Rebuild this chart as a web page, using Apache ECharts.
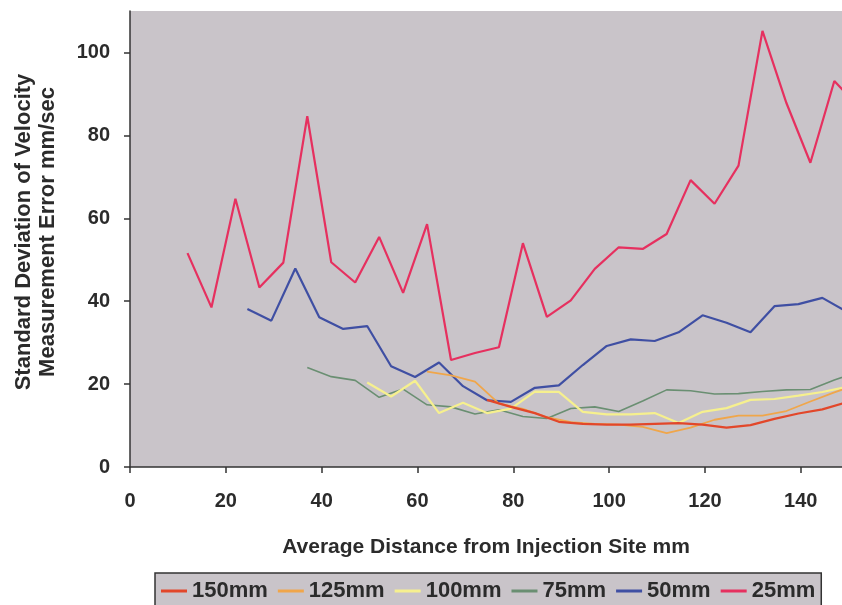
<!DOCTYPE html>
<html><head><meta charset="utf-8">
<script src="https://cdn.jsdelivr.net/npm/echarts@6/dist/echarts.min.js"></script>
<style>html,body{margin:0;padding:0;background:#fff}#c{width:842px;height:605px}</style>
</head><body><div id="c"></div>
<script>
// Series x positions (mm) and y values (mm/sec)
const x25 = [12,17,22,27,32,37,42,47,52,57,62,67,72,77,82,87,92,97,102,107,112,117,122,127,132,137,142,147,152];
const y25 = [51.6,38.5,64.7,43.3,49.3,84.6,49.4,44.5,55.5,42.0,58.6,25.8,27.5,28.9,54.0,36.2,40.2,47.8,53.0,52.6,56.2,69.2,63.5,72.7,105.2,87.8,73.4,93.1,87];
const x50 = [24.5,29.5,34.5,39.5,44.5,49.5,54.5,59.5,64.5,69.5,74.5,79.5,84.5,89.5,94.5,99.5,104.5,109.5,114.5,119.5,124.5,129.5,134.5,139.5,144.5,149.5];
const y50 = [38.1,35.3,47.9,36.1,33.3,34.0,24.3,21.7,25.2,19.5,16.1,15.7,19.1,19.7,24.6,29.2,30.8,30.4,32.5,36.6,34.8,32.5,38.8,39.3,40.8,37.5];
const x75 = [37,42,47,52,57,62,67,72,77,82,87,92,97,102,107,112,117,122,127,132,137,142,147,152];
const y75 = [24.0,21.8,20.9,16.8,18.8,15.0,14.5,12.8,13.8,12.2,11.7,14.1,14.5,13.4,15.9,18.6,18.4,17.6,17.7,18.2,18.6,18.7,21.0,23.0];
const x100 = [49.5,54.5,59.5,64.5,69.5,74.5,79.5,84.5,89.5,94.5,99.5,104.5,109.5,114.5,119.5,124.5,129.5,134.5,139.5,144.5,149.5];
const y100 = [20.4,17.0,20.8,13.0,15.5,13.0,14.1,18.2,18.1,13.3,12.7,12.7,13.0,10.6,13.3,14.2,16.2,16.4,17.2,18.1,19.3];
const x125 = [62,67,72,77,82,87,92,97,102,107,112,117,122,127,132,137,142,147,152];
const y125 = [23.0,22.1,20.6,15.3,14.0,12.0,10.8,10.4,10.2,9.7,8.2,9.5,11.4,12.4,12.4,13.5,15.8,18.0,20.0];
const x150 = [74.5,79.5,84.5,89.5,94.5,99.5,104.5,109.5,114.5,119.5,124.5,129.5,134.5,139.5,144.5,149.5];
const y150 = [16.2,14.5,13.0,10.9,10.4,10.2,10.2,10.4,10.6,10.2,9.5,10.1,11.6,12.9,13.9,15.6];

const names = ['150mm','125mm','100mm','75mm','50mm','25mm'];
const xs = [x150,x125,x100,x75,x50,x25];
const ys = [y150,y125,y100,y75,y50,y25];
const colors = ['#e2472a','#f0a64a','#f6f08e','#6a8f72','#3f4fa3','#e6305f'];
const widths = [2.2,1.8,2.2,1.6,2.2,2.2];

const txt = '#2b2b2b';
const font = 'Liberation Sans, Arial, sans-serif';
const chart = echarts.init(document.getElementById('c'), null, {renderer:'canvas'});
chart.setOption({
  animation:false,
  backgroundColor:'#ffffff',
  grid:{left:130,right:0,top:11,bottom:138,show:true,backgroundColor:'#c9c4c9',borderWidth:0},
  xAxis:{type:'value',min:0,max:148.6,interval:20,
    name:'Average Distance from Injection Site mm',nameLocation:'middle',nameGap:70,
    nameTextStyle:{fontSize:21,fontWeight:'bold',color:txt,fontFamily:font},
    axisLine:{show:true,lineStyle:{color:'#333',width:1.5}},
    axisTick:{show:true,length:6,lineStyle:{color:'#333',width:1.5}},
    axisLabel:{fontSize:20,fontWeight:'bold',color:txt,fontFamily:font,margin:24,showMaxLabel:false},
    splitLine:{show:false}},
  yAxis:{type:'value',min:0,max:110,interval:20,
    name:'Standard Deviation of Velocity\nMeasurement Error mm/sec',nameLocation:'middle',nameGap:70,
    nameTextStyle:{fontSize:22,fontWeight:'bold',color:txt,fontFamily:font,lineHeight:24,padding:[0,0,0,14]},
    axisLine:{show:true,lineStyle:{color:'#333',width:1.5}},
    axisTick:{show:true,length:6,lineStyle:{color:'#333',width:1.5}},
    axisLabel:{fontSize:20,fontWeight:'bold',color:txt,fontFamily:font,margin:20,showMaxLabel:false},
    splitLine:{show:false}},
  legend:{left:155,top:573,padding:[7,6,12,6],itemGap:10,itemWidth:26,itemHeight:3,icon:'rect',
    backgroundColor:'#c9c4c9',borderColor:'#333',borderWidth:1.5,
    textStyle:{fontSize:22,fontWeight:'bold',color:txt,fontFamily:font},
    data:names},
  series: names.map((n,i)=>({
    name:n,type:'line',data:xs[i].map((x,j)=>[x,ys[i][j]]),
    showSymbol:false,symbol:'none',color:colors[i],
    lineStyle:{color:colors[i],width:widths[i]},clip:true
  })).reverse()
});
</script></body></html>
